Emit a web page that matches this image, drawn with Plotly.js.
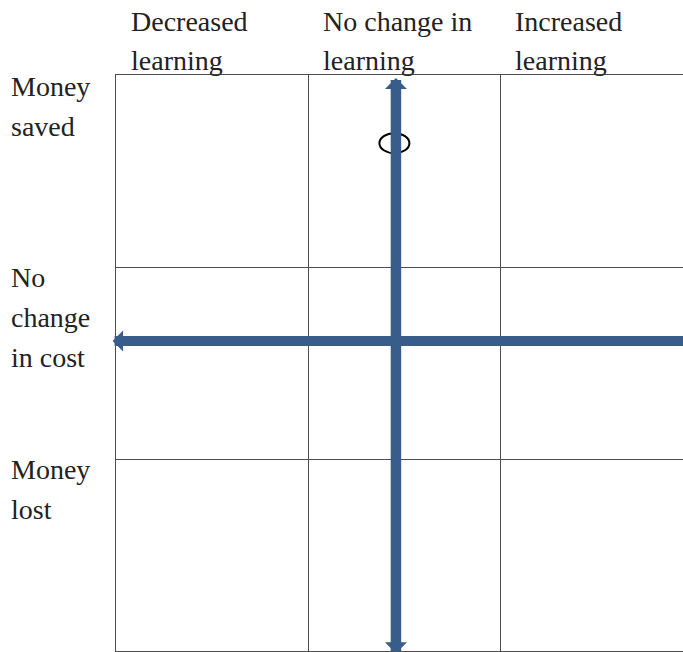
<!DOCTYPE html>
<html>
<head>
<meta charset="utf-8">
<script src="https://cdn.plot.ly/plotly-3.0.1.min.js"></script>
<style>html,body{margin:0;padding:0;background:#fff;}#chart{width:683px;height:652px;}</style>
</head>
<body>
<div id="chart"></div>
<script>
// Column headers (learning) and row headers (cost), one entry per text line
const columnLabels = [["Decreased", "learning"], ["No change in", "learning"], ["Increased", "learning"]];
const rowLabels = [["Money", "saved"], ["No", "change", "in cost"], ["Money", "lost"]];
// Cell boundaries (data units: one cell = 1)
const columnEdges = [0, 1, 2, 3];
const rowEdges = [0, 1, 2, 3];
// Learning arrow (vertical, double headed)
const learningArrowX = [1.458, 1.458];
const learningArrowY = [-0.02, 2.985];
// Cost arrow (horizontal, head pointing left)
const costArrowX = [3.2, -0.018];
const costArrowY = [1.615, 1.615];
// Marked point
const pointX = [1.45];
const pointY = [2.645];

const blue = '#385D8A';
const textColor = '#222222';
const fontFamily = '"Liberation Serif", "Times New Roman", serif';
const fontSize = 28;
const lineGap = 40;
const xRange = [0, 567 / 192];

const annotations = [];
// column headers
columnLabels.forEach((lines, c) => {
  lines.forEach((t, i) => {
    annotations.push({
      text: t, xref: 'x', yref: 'paper', x: columnEdges[c], y: 1,
      xanchor: 'left', yanchor: 'top', showarrow: false,
      xshift: 13, yshift: 71 - i * 39,
      font: {family: fontFamily, size: fontSize, color: textColor}
    });
  });
});
// row headers
rowLabels.forEach((lines, r) => {
  lines.forEach((t, i) => {
    annotations.push({
      text: t, xref: 'x', yref: 'y', x: 0, y: rowEdges[3 - r],
      xanchor: 'left', yanchor: 'top', showarrow: false,
      xshift: -107, yshift: 7 - i * lineGap - (r === 0 ? 1 : 0),
      font: {family: fontFamily, size: fontSize, color: textColor}
    });
  });
});
// learning arrow: double headed
annotations.push({
  xref: 'x', yref: 'y', axref: 'x', ayref: 'y',
  x: learningArrowX[1], y: learningArrowY[1], ax: learningArrowX[0], ay: learningArrowY[0],
  text: '', showarrow: true, arrowside: 'end+start',
  arrowhead: 1, startarrowhead: 1, arrowsize: 0.35, startarrowsize: 0.35,
  arrowwidth: 10.5, arrowcolor: blue
});
// cost arrow head: lies just left of the plot area, so place it in paper units
const toPaper = v => (v - xRange[0]) / (xRange[1] - xRange[0]);
annotations.push({
  xref: 'paper', yref: 'y', axref: 'pixel', ayref: 'pixel',
  x: toPaper(costArrowX[1]), y: costArrowY[1],
  ax: 200, ay: 0,
  text: '', showarrow: true, arrowhead: 1, arrowsize: 0.35,
  arrowwidth: 10, arrowcolor: blue
});

const shapes = pointX.map((px, i) => ({
  type: 'circle', layer: 'above',
  xref: 'x', yref: 'y', xsizemode: 'pixel', ysizemode: 'pixel',
  xanchor: px, yanchor: pointY[i],
  x0: -15, x1: 15, y0: -10, y1: 10,
  fillcolor: '#ffffff', line: {color: '#000000', width: 2}
}));

// shaft of the cost arrow, running out past the right edge
const data = [{
  x: [0.5, costArrowX[0]], y: costArrowY, type: 'scatter', mode: 'lines',
  line: {color: blue, width: 10}, cliponaxis: false, hoverinfo: 'skip'
}];

const layout = {
  width: 683, height: 652,
  margin: {l: 116, r: 0, t: 75, b: 1, pad: 0},
  paper_bgcolor: '#ffffff', plot_bgcolor: '#ffffff',
  showlegend: false, hovermode: false,
  xaxis: {
    range: xRange, tickvals: columnEdges, showticklabels: false, ticks: '',
    showgrid: true, gridcolor: '#4d4d4d', gridwidth: 1, zeroline: false,
    showline: true, mirror: true, linecolor: '#4d4d4d', linewidth: 1, fixedrange: true
  },
  yaxis: {
    range: [0, 3], tickvals: rowEdges, showticklabels: false, ticks: '',
    showgrid: true, gridcolor: '#4d4d4d', gridwidth: 1, zeroline: false,
    showline: true, mirror: false, linecolor: '#4d4d4d', linewidth: 1, fixedrange: true
  },
  annotations: annotations,
  shapes: shapes
};

Plotly.newPlot('chart', data, layout, {staticPlot: true, displayModeBar: false});
</script>
</body>
</html>
